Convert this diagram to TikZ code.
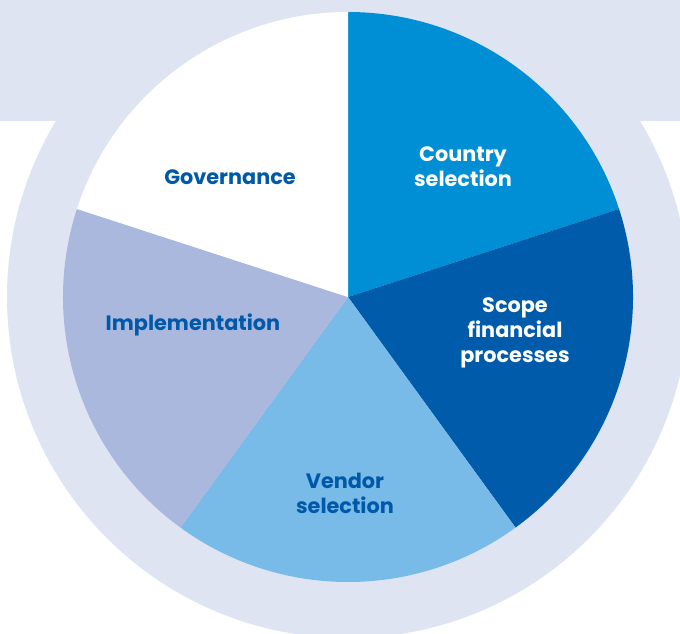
\documentclass[tikz,border=0pt]{standalone}
\usepackage{fontspec}
\setmainfont{Poppins}
\definecolor{ringc}{HTML}{DFE4F3}
\definecolor{countryc}{HTML}{008FD5}
\definecolor{scopec}{HTML}{005BAA}
\definecolor{vendorc}{HTML}{78BAE8}
\definecolor{implc}{HTML}{ABB8DE}
\definecolor{txtblue}{HTML}{0059A8}
\begin{document}
\begin{tikzpicture}[x=1pt,y=1pt,
  lbl/.style={align=center,font=\bfseries\fontsize{20.8}{25}\selectfont,inner sep=0pt},
  lblw/.style={lbl,text=white},
  lblb/.style={lbl,text=txtblue}]
\useasboundingbox (0,0) rectangle (680,633);
\clip (0,0) rectangle (680,633);
\fill[ringc] (0,512) rectangle (680,633);
\fill[ringc] (348,336) circle[radius=341];
\coordinate (c) at (348,336);
\fill[countryc] (c) -- ++(18:285) arc[start angle=18,end angle=90,radius=285] -- cycle;
\fill[scopec] (c) -- ++(-54:285) arc[start angle=-54,end angle=18,radius=285] -- cycle;
\fill[vendorc] (c) -- ++(-126:285) arc[start angle=-126,end angle=-54,radius=285] -- cycle;
\fill[implc] (c) -- ++(162:285) arc[start angle=162,end angle=234,radius=285] -- cycle;
\fill[white] (c) -- ++(90:285) arc[start angle=90,end angle=162,radius=285] -- cycle;
\node[lblw] (country) at (463,466) {Country\\selection};
\node[lblw] (scope) at (515,300) {Scope\\financial\\processes};
\node[lblb] (vendor) at (345,140) {Vendor\\selection};
\node[lblb] (impl) at (193,308) {Implementation};
\node[lblb] (gov) at (230,456) {Governance};
\end{tikzpicture}
\end{document}
